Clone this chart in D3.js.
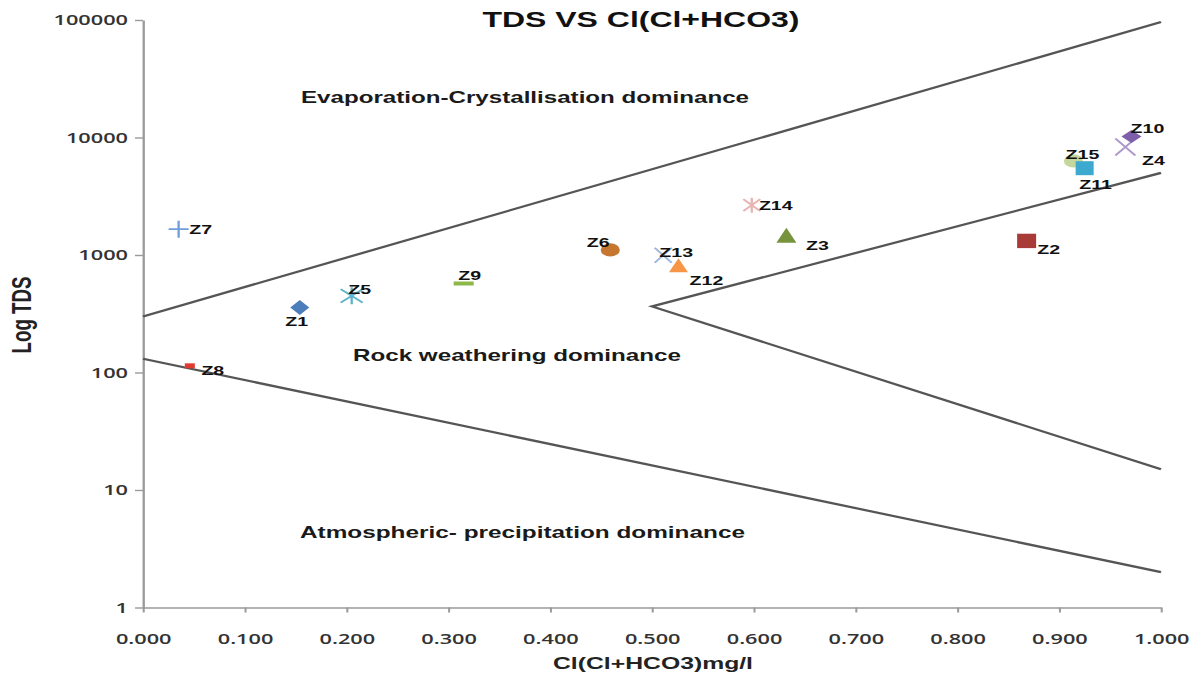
<!DOCTYPE html>
<html>
<head>
<meta charset="utf-8">
<script src="https://cdn.jsdelivr.net/npm/d3@7"></script>
<style>
  html, body { margin: 0; padding: 0; background: #fff; }
  svg { display: block; }
</style>
</head>
<body>
<svg id="chart" width="1200" height="682"></svg>
<script>
// sample data
const samples = ["Z1", "Z2", "Z3", "Z4", "Z5", "Z6", "Z7", "Z8", "Z9", "Z10", "Z11", "Z12", "Z13", "Z14", "Z15"];
const clRatio = [0.154, 0.868, 0.632, 0.965, 0.205, 0.459, 0.035, 0.046, 0.315, 0.971, 0.925, 0.526, 0.511, 0.598, 0.914];
const tds = [357, 1318, 1473, 8300, 449, 1105, 1660, 114, 572, 10200, 5480, 819, 996, 2655, 6320];

const xTicks = [0, 0.1, 0.2, 0.3, 0.4, 0.5, 0.6, 0.7, 0.8, 0.9, 1.0];
const yTicks = [1, 10, 100, 1000, 10000, 100000];

// Gibbs boundary lines [ratio, TDS]
const upperLine = [[0, 300], [1, 96000]];
const lowerLine = [[0, 131], [1, 2]];
const innerV = [[1, 5000], [0.5, 365], [1, 15]];

const zones = [
    {text: "Evaporation-Crystallisation dominance", x: 301, y: 103, w: 448},
    {text: "Rock weathering dominance", x: 353, y: 361, w: 328},
    {text: "Atmospheric- precipitation dominance", x: 300, y: 538, w: 445}
];

// marker look for each sample (half width / half height in screen px)
const markerStyles = [
    {shape: "diamond", w: 9.5, h: 7.5, fill: "#4a7ebb"},
    {shape: "square", w: 9.5, h: 7.2, fill: "#a83b38"},
    {shape: "triangle", w: 10, h: 7.5, fill: "#77943d"},
    {shape: "times", w: 10, h: 8.5, stroke: "#ab97c9"},
    {shape: "asterisk", w: 11, h: 8.5, stroke: "#5fb3cc"},
    {shape: "circle", w: 9.6, h: 6.6, fill: "#c77630"},
    {shape: "plus", w: 10, h: 8.5, stroke: "#6f9fd8"},
    {shape: "dash", w: 5, h: 2.5, fill: "#e03a32"},
    {shape: "dash", w: 10, h: 2, fill: "#8db84a"},
    {shape: "diamond", w: 10, h: 6.5, fill: "#7e5faa"},
    {shape: "square", w: 9, h: 7, fill: "#3da9cf"},
    {shape: "triangle", w: 9.5, h: 7, fill: "#f79646"},
    {shape: "times", w: 8.5, h: 7.5, stroke: "#9db8e0"},
    {shape: "asterisk", w: 8.5, h: 7.5, stroke: "#e8b4b4"},
    {shape: "circle", w: 9.6, h: 6.6, fill: "#c4d79c"}
];
// label offset from marker centre, screen px
const labelOffsets = [
    [-3, 14], [22, 8], [31, 10], [28, 13], [8, -7], [-12, -8], [22, 0], [23, 4],
    [6, -8], [16, -8], [11, 16], [28, 15], [13, -3], [24, 0], [9, -7]
];
const drawOrder = [0, 1, 2, 3, 4, 5, 6, 7, 8, 9, 14, 10, 12, 11, 13];

// the original picture is stretched sideways, so draw in a narrower box and stretch it
const W = 828, H = 682;
const sx = 1200 / W;

const svg = d3.select("#chart")
    .attr("viewBox", "0 0 " + W + " " + H)
    .attr("preserveAspectRatio", "none");

const x = d3.scaleLinear().domain([0, 1]).range([143 / sx, 1161 / sx]);
const y = d3.scaleLog().domain([1, 100000]).range([607.5, 20]);

const font = "'Liberation Sans', Arial, sans-serif";
const axisColor = "#9a9a9a";

// y axis
const yAxis = svg.append("g")
    .attr("transform", "translate(" + x(0) + ",0)")
    .call(d3.axisLeft(y)
        .tickValues(yTicks)
        .tickFormat(d3.format("d"))
        .tickSize(8 / sx)
        .tickSizeOuter(0)
        .tickPadding(15 / sx - 8 / sx));
// x axis
const xAxis = svg.append("g")
    .attr("transform", "translate(0," + y(1) + ")")
    .call(d3.axisBottom(x)
        .tickValues(xTicks)
        .tickFormat(d3.format(".3f"))
        .tickSize(5)
        .tickSizeOuter(0)
        .tickPadding(21));

[xAxis, yAxis].forEach(function (a) {
    a.select(".domain").attr("stroke", axisColor).attr("stroke-width", 1.6);
    a.selectAll(".tick line").attr("stroke", axisColor).attr("stroke-width", 1.4);
    a.selectAll(".tick text")
        .attr("fill", "#333")
        .attr("font-family", "'Open Sans', 'Liberation Sans', sans-serif")
        .attr("font-weight", 600)
        .attr("font-size", 15);
});

// boundary lines
const line = d3.line()
    .x(function (d) { return x(d[0]); })
    .y(function (d) { return y(d[1]); });

[upperLine, lowerLine, innerV].forEach(function (pts) {
    svg.append("path")
        .attr("d", line(pts))
        .attr("fill", "none")
        .attr("stroke", "#555")
        .attr("stroke-width", 2.2);
});

// marker shapes (w, h are half sizes in the narrow box)
const shapes = {
    diamond: function (w, h) {
        return {draw: function (c) { c.moveTo(0, -h); c.lineTo(w, 0); c.lineTo(0, h); c.lineTo(-w, 0); c.closePath(); }};
    },
    square: function (w, h) {
        return {draw: function (c) { c.rect(-w, -h, 2 * w, 2 * h); }};
    },
    triangle: function (w, h) {
        return {draw: function (c) { c.moveTo(0, -h); c.lineTo(w, h); c.lineTo(-w, h); c.closePath(); }};
    },
    circle: function (w, h) {
        return {draw: function (c) { c.moveTo(h, 0); c.arc(0, 0, h, 0, 2 * Math.PI); }};
    },
    dash: function (w, h) {
        return {draw: function (c) { c.rect(-w, -h, 2 * w, 2 * h); }};
    },
    times: function (w, h) {
        return {draw: function (c) { c.moveTo(-w, -h); c.lineTo(w, h); c.moveTo(w, -h); c.lineTo(-w, h); }};
    },
    asterisk: function (w, h) {
        return {draw: function (c) {
            c.moveTo(-w, -h * 0.8); c.lineTo(w, h * 0.8);
            c.moveTo(w, -h * 0.8); c.lineTo(-w, h * 0.8);
            c.moveTo(0, -h); c.lineTo(0, h);
        }};
    },
    plus: function (w, h) {
        return {draw: function (c) { c.moveTo(-w, 0); c.lineTo(w, 0); c.moveTo(0, -h); c.lineTo(0, h); }};
    }
};

const markers = svg.append("g");
drawOrder.forEach(function (i) {
    const st = markerStyles[i];
    const sym = d3.symbol().type(shapes[st.shape](st.w / sx, st.h));
    markers.append("path")
        .attr("transform", "translate(" + x(clRatio[i]) + "," + y(tds[i]) + ")")
        .attr("d", sym())
        .attr("fill", st.fill || "none")
        .attr("stroke", st.stroke || "none")
        .attr("stroke-width", st.stroke ? 1.6 : 0);
});

// sample labels
svg.append("g")
    .selectAll("text")
    .data(samples)
    .join("text")
    .attr("x", function (d, i) { return x(clRatio[i]) + labelOffsets[i][0] / sx; })
    .attr("y", function (d, i) { return y(tds[i]) + labelOffsets[i][1]; })
    .attr("dy", "0.36em")
    .attr("text-anchor", "middle")
    .attr("font-family", font)
    .attr("font-weight", "bold")
    .attr("font-size", 13.5)
    .attr("fill", "#111")
    .text(function (d) { return d; });

// zone names
svg.append("g")
    .selectAll("text")
    .data(zones)
    .join("text")
    .attr("x", function (d) { return d.x / sx; })
    .attr("y", function (d) { return d.y; })
    .attr("textLength", function (d) { return d.w / sx; })
    .attr("lengthAdjust", "spacingAndGlyphs")
    .attr("font-family", font)
    .attr("font-weight", "bold")
    .attr("font-size", 16)
    .attr("fill", "#1a1a1a")
    .text(function (d) { return d.text; });

// title
svg.append("text")
    .attr("x", 641 / sx)
    .attr("y", 27)
    .attr("text-anchor", "middle")
    .attr("textLength", 317 / sx)
    .attr("lengthAdjust", "spacingAndGlyphs")
    .attr("font-family", font)
    .attr("font-weight", "bold")
    .attr("font-size", 22)
    .attr("fill", "#111")
    .text("TDS VS Cl(Cl+HCO3)");

// axis titles
svg.append("text")
    .attr("x", 653 / sx)
    .attr("y", 669)
    .attr("text-anchor", "middle")
    .attr("textLength", 200 / sx)
    .attr("lengthAdjust", "spacingAndGlyphs")
    .attr("font-family", font)
    .attr("font-weight", "bold")
    .attr("font-size", 17)
    .attr("fill", "#222")
    .text("Cl(Cl+HCO3)mg/l");

svg.append("text")
    .attr("transform", "translate(" + (31 / sx) + ",315) rotate(-90)")
    .attr("text-anchor", "middle")
    .attr("textLength", 77)
    .attr("lengthAdjust", "spacingAndGlyphs")
    .attr("font-family", font)
    .attr("font-weight", "bold")
    .attr("font-size", 18.5)
    .attr("fill", "#222")
    .text("Log TDS");
</script>
</body>
</html>
